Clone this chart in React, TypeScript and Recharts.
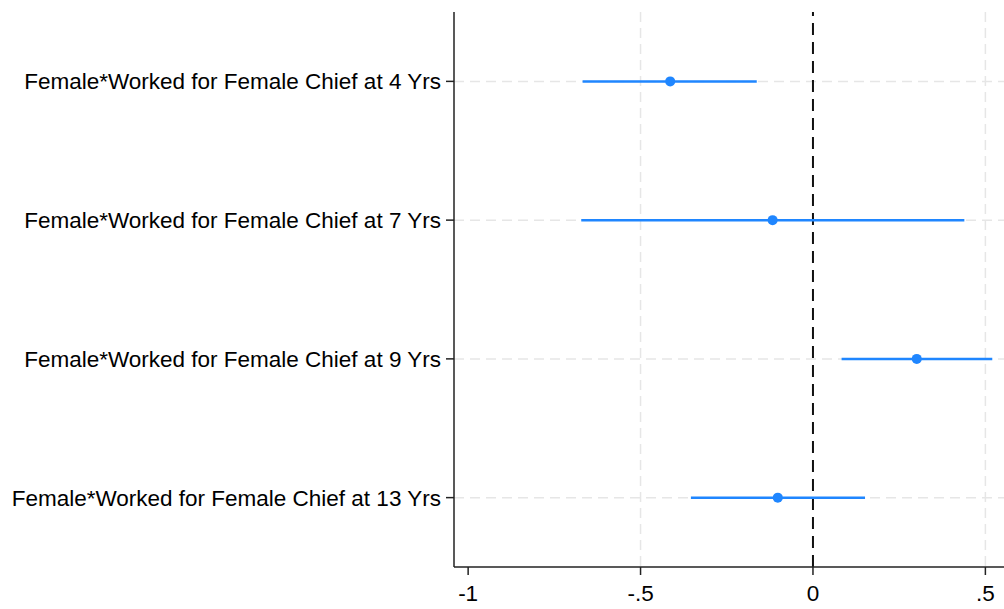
import {
  ScatterChart,
  Scatter,
  XAxis,
  YAxis,
  CartesianGrid,
  ReferenceLine,
  ErrorBar,
} from "recharts"

// coefficient estimates with 95% CIs
const labels = [
  "Female*Worked for Female Chief at 4 Yrs",
  "Female*Worked for Female Chief at 7 Yrs",
  "Female*Worked for Female Chief at 9 Yrs",
  "Female*Worked for Female Chief at 13 Yrs",
]
const coefs = [-0.414, -0.117, 0.301, -0.102]
const lower = [-0.668, -0.672, 0.083, -0.354]
const upper = [-0.163, 0.439, 0.52, 0.151]

const xTicks = [-1, -0.5, 0, 0.5]
const xTickLabels = ["-1", "-.5", "0", ".5"]
const rows = [1, 2, 3, 4]

const BLUE = "#1f86ff"
const FONT = "'Liberation Sans', Arial, sans-serif"

export default function App() {
  const data = coefs.map((c, i) => ({
    row: rows[i],
    coef: c,
    ci: [c - lower[i], upper[i] - c],
  }))

  return (
    <div style={{ width: 1004, height: 609, background: "#fff" }}>
      <style>{`body{margin:0}`}</style>
      <ScatterChart
        width={1004}
        height={609}
        margin={{ top: 12, right: 0, left: 0, bottom: 0 }}
      >
        <CartesianGrid
          stroke="#e6e6e6"
          strokeDasharray="10 6"
          strokeWidth={1.5}
          horizontalValues={rows}
          verticalValues={[-0.5, 0.5]}
        />
        <XAxis
          type="number"
          dataKey="coef"
          domain={[-1.041, 0.554]}
          allowDataOverflow
          ticks={xTicks}
          tickFormatter={(v: number) => xTickLabels[xTicks.indexOf(v)] ?? String(v)}
          height={42}
          tickSize={8}
          tickMargin={10}
          stroke="#222"
          strokeWidth={1.5}
          tick={{ fill: "#000", fontSize: 22.5, fontFamily: FONT }}
        />
        <YAxis
          type="number"
          dataKey="row"
          domain={[0.5, 4.5]}
          reversed
          ticks={rows}
          tickFormatter={(v: number) => labels[v - 1] ?? ""}
          width={454}
          tickSize={8}
          tickMargin={5}
          stroke="#222"
          strokeWidth={1.5}
          tick={{ fill: "#000", fontSize: 22.5, fontFamily: FONT }}
        />
        <ReferenceLine
          x={0}
          stroke="#111"
          strokeWidth={2}
          strokeDasharray="12 7"
        />
        <Scatter
          data={data}
          fill={BLUE}
          isAnimationActive={false}
          shape={(props: any) => (
            <circle cx={props.cx} cy={props.cy} r={5} fill={BLUE} />
          )}
        >
          <ErrorBar
            dataKey="ci"
            direction="x"
            width={0}
            stroke={BLUE}
            strokeWidth={2.5}
            isAnimationActive={false}
          />
        </Scatter>
      </ScatterChart>
    </div>
  )
}
